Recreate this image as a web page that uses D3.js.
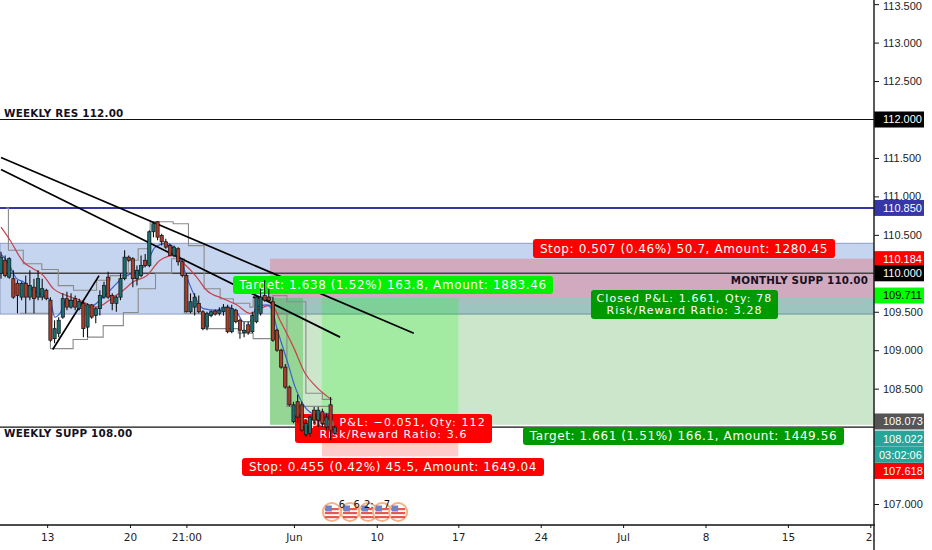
<!DOCTYPE html>
<html><head><meta charset="utf-8">
<script src="https://cdn.jsdelivr.net/npm/d3@7/dist/d3.min.js"></script>
<style>html,body{margin:0;padding:0;background:#fff;overflow:hidden}svg{display:block}text{font-family:"DejaVu Sans",sans-serif}</style>
</head><body><svg id="c" width="932" height="550"></svg>
<script>
// candles, one entry per bar
const opens=[110.00,110.17,109.95,109.93,109.87,109.69,109.87,109.69,109.82,109.69,109.69,109.78,109.65,109.15,109.22,109.43,109.67,109.56,109.67,109.54,109.61,109.30,109.59,109.45,109.54,109.69,109.95,109.71,109.61,109.69,109.93,110.21,110.19,109.93,109.97,110.17,110.10,110.54,110.67,110.49,110.41,110.36,110.23,110.32,110.15,109.97,109.50,109.56,109.61,109.50,109.30,109.45,109.51,109.48,109.50,109.56,109.24,109.52,109.39,109.23,109.33,109.24,109.37,109.48,109.71,109.69,109.63,109.26,109.00,108.78,108.52,108.07,108.33,108.29,107.90,107.92,108.22,108.09,108.20,108.00,108.29,107.92];
const closes=[110.21,109.97,110.19,109.69,109.71,109.87,109.69,109.84,109.67,109.93,109.80,109.67,109.13,109.28,109.39,109.67,109.56,109.65,109.56,109.63,109.28,109.59,109.43,109.54,109.71,109.84,109.69,109.61,109.69,109.93,110.21,110.17,109.93,110.04,110.10,110.10,110.54,110.645,110.47,110.41,110.34,110.23,110.34,110.15,109.97,109.50,109.63,109.69,109.50,109.28,109.48,109.50,109.47,109.52,109.56,109.24,109.54,109.37,109.26,109.26,109.23,109.45,109.69,109.69,109.65,109.65,109.13,109.00,108.78,108.52,108.29,108.29,108.13,107.96,108.05,108.13,108.09,108.22,108.05,108.13,107.96,108.00];
const highs=[110.28,110.23,110.21,110.04,109.91,109.89,109.97,110.04,109.93,110.04,109.93,109.80,109.69,109.39,109.43,109.74,109.76,109.74,109.71,109.67,109.65,109.61,109.60,109.56,109.78,109.89,110.02,109.74,109.71,110.00,110.30,110.23,110.21,110.10,110.23,110.25,110.56,110.67,110.68,110.515,110.45,110.385,110.36,110.34,110.17,110.00,109.74,109.74,109.71,109.52,109.50,109.52,109.53,109.56,109.60,109.59,109.59,109.54,109.41,109.37,109.37,109.50,109.71,109.80,109.91,109.80,109.69,109.28,109.02,108.82,108.54,108.33,108.42,108.33,108.09,108.15,108.26,108.26,108.24,108.18,108.39,108.02];
const lows=[109.93,109.95,109.93,109.67,109.48,109.65,109.48,109.65,109.48,109.65,109.65,109.65,109.11,109.09,109.17,109.41,109.52,109.54,109.52,109.52,109.17,109.17,109.41,109.35,109.45,109.67,109.67,109.52,109.50,109.65,109.91,110.15,109.82,109.84,109.95,110.08,110.08,110.47,110.43,110.36,110.32,110.23,110.21,110.10,109.95,109.49,109.48,109.45,109.48,109.26,109.26,109.43,109.45,109.45,109.45,109.22,109.22,109.35,109.15,109.17,109.20,109.22,109.35,109.45,109.63,109.63,109.11,108.98,108.76,108.50,108.27,108.05,108.05,107.94,107.87,107.87,108.05,108.00,108.00,107.96,107.83,107.90];

// moving averages
const fastBars=[0,1.8,3.8,5.4,7.8,10.3,11.9,13.1,14.3,16,19.2,21.6,24,26.5,29.7,32.9,35.4,37.4,40.2,43.4,45.1,46.7,49.1,52.3,54.8,57.2,58.8,60.4,62,64.5,65.7,66.9,69.4,71.4,73.8,75.8,77.4,79.9];
const fastVals=[110.25,110.13,109.93,109.89,109.78,109.71,109.65,109.43,109.48,109.65,109.63,109.56,109.65,109.78,109.95,110.02,110.13,110.34,110.39,110.21,109.95,109.74,109.54,109.52,109.56,109.50,109.37,109.37,109.56,109.59,109.54,109.30,108.87,108.52,108.26,108.18,108.18,108.18];
const slowBars=[0,2.2,5.4,7.8,10.3,12.7,16,19.2,23.2,27.3,29.7,32.1,35.4,38.6,41.8,44.3,47.5,49.9,54,57.2,60.4,63.7,65.7,67.7,71,73.8,76.6,79.9];
const slowVals=[110.60,110.43,110.15,110.06,109.97,109.80,109.71,109.65,109.56,109.69,109.78,109.89,109.97,110.17,110.23,110.13,109.95,109.78,109.67,109.59,109.48,109.56,109.59,109.39,109.04,108.70,108.52,108.37];

// channel step lines
const upperBars=[1.2,1.8,5.4,9.9,13.9,17.6,23.2,26.5,30.9,33.3,36.2,41.8,45.5,49.3,53.2,56.4,60.4,61.2,66,69.4,74,78,80.5];
const upperVals=[110.85,110.30,110.125,110.05,109.84,109.78,109.91,109.97,110.17,110.32,110.67,110.645,110.36,109.80,109.67,109.61,109.56,109.69,109.71,109.63,108.44,108.36,108.36];
const lowerBars=[4.6,12,17.5,21,24.8,29.7,33.3,37.5,41.4,44.5,49.3,57.6,61.2,66,69.4,80.5];
const lowerVals=[109.48,109.02,109.14,109.17,109.32,109.49,109.80,110.00,110.19,109.48,109.28,109.22,109.15,109.48,108.27,108.27];

// trend lines: [bar, price, bar, price]
const trendLines=[[0,111.506,100.2,109.22],[0,111.35,82.3,109.17],[12.55,109.01,23.8,109.97],[61.2,109.69,65.3,109.65]];

// axes
const priceTicks=[113.5,113,112.5,111.5,111,110.5,109.5,109,108.5,107];
const timeTickBars=[11.2,31.3,45,71.1,91.2,111,131,151,171,191,211];
const timeTickLabels=["13","20","21:00","Jun","10","17","24","Jul","8","15","22"];

// horizontal levels
const levels=[112,110,108];
const bluePrice=110.85;
const zonePrices=[110.39,109.47];

// positions: price bounds
const stopA=[110.19,109.68];
const targetA=[109.68,108.03];
const targetBarsInner=[65.3,73.3];
const targetB=[109.68,108.03];
const stopB=[108.03,107.618];
const barsA=[65.3,300];
const barsB=[77.9,111];

// text on chart
const tagTexts=[
 ["Stop: 0.507 (0.46%) 50.7, Amount: 1280.45"],
 ["Target: 1.638 (1.52%) 163.8, Amount: 1883.46"],
 ["Closed P&L: 1.661, Qty: 78","Risk/Reward Ratio: 3.28"],
 ["Open P&L: \u22120.051, Qty: 112","Risk/Reward Ratio: 3.6"],
 ["Target: 1.661 (1.51%) 166.1, Amount: 1449.56"],
 ["Stop: 0.455 (0.42%) 45.5, Amount: 1649.04"]];
const tagFills=["#ff0000","#00f000","#009a00","#ff0000","#009a00","#ff0000"];
const tagBoxes=[[533,239,302,19],[233,276,320,18],[591,290,187,29],[295,414,197,29],[523,427,321,18],[242,458,302,18]];

// axis price tags
const axisTagLabels=["112.000","110.850","110.184","110.000","109.711","108.073","108.022","03:02:06","107.618"];
const axisTagPrices=[112,110.85,110.184,110.0,109.711,108.073,107.85,107.64,107.43];
const axisTagFills=["#000","#3636a8","#ff0000","#000","#00ff00","#555","#26a69a","#26a69a","#ff0000"];
const axisTagText=["#fff","#fff","#fff","#fff","#000","#fff","#fff","#fff","#fff"];

// event flags
const eventBars=[80.3,84.7,89.1,92.5,96.4];
const eventLabels=["6","6","2",":","7"];
const eventLabelBars=[82.8,86.4,88.9,90.1,93.7];

const svg=d3.select("#c");
const W=874,AX=525;
const axisFont='"Liberation Sans",sans-serif';
const x=d3.scaleLinear().domain([0,211]).range([1,870.3]);
const y=d3.scaleLinear().domain([112,107]).range([119.5,504]);
const gp=svg.append("g");

// zone
gp.append("rect").attr("x",0).attr("width",W).attr("y",y(zonePrices[0])).attr("height",y(zonePrices[1])-y(zonePrices[0])).attr("fill","#c6d5ef").attr("stroke","#8e9cc6");

// positions
const box=(bars,pr,fill)=>gp.append("rect").attr("x",x(bars[0])).attr("width",Math.min(x(bars[1]),W)-x(bars[0])).attr("y",y(pr[0])).attr("height",y(pr[1])-y(pr[0])).attr("fill",fill);
box(barsA,stopA,"rgba(255,0,0,.2)");
box(barsA,targetA,"rgba(0,128,0,.2)");
box(targetBarsInner,targetA,"rgba(0,170,0,.27)");
box(barsB,targetB,"rgba(0,255,0,.2)");
box(barsB,stopB,"rgba(255,0,0,.2)");

// levels
gp.selectAll(".lv").data(levels).join("line").attr("x1",0).attr("x2",W).attr("y1",d=>y(d)).attr("y2",d=>y(d)).attr("stroke",(d,i)=>i==1?"#444":"#111").attr("stroke-width",(d,i)=>i==1?1.5:1.2);
gp.append("line").attr("x1",0).attr("x2",W).attr("y1",y(bluePrice)).attr("y2",y(bluePrice)).attr("stroke","#3636a8").attr("stroke-width",2);

// step lines
const stepLine=d3.line().x(d=>x(d[0])).y(d=>y(d[1])).curve(d3.curveStepAfter);
[[upperBars,upperVals],[lowerBars,lowerVals]].forEach(([b,v])=>{
 gp.append("path").attr("d",stepLine(b.map((k,i)=>[k,v[i]]))).attr("fill","none").attr("stroke","#8a8a8a").attr("stroke-width",1.1);
});

// moving averages
const smooth=d3.line().x(d=>x(d[0])).y(d=>y(d[1])).curve(d3.curveMonotoneX);
gp.append("path").attr("d",smooth(slowBars.map((k,i)=>[k,slowVals[i]]))).attr("fill","none").attr("stroke","#c8404a").attr("stroke-width",1.2);
gp.append("path").attr("d",smooth(fastBars.map((k,i)=>[k,fastVals[i]]))).attr("fill","none").attr("stroke","#3a5fd0").attr("stroke-width",1.2);

// trend lines
gp.selectAll(".tl").data(trendLines).join("line").attr("x1",d=>x(d[0])).attr("y1",d=>y(d[1])).attr("x2",d=>x(d[2])).attr("y2",d=>y(d[3])).attr("stroke","#000").attr("stroke-width",1.7);

// tags
tagTexts.forEach((lines,i)=>{
 const [bx,by,bw,bh]=tagBoxes[i];
 gp.append("rect").attr("x",bx).attr("y",by).attr("width",bw).attr("height",bh).attr("rx",3).attr("fill",tagFills[i]);
 const two=lines.length>1;
 lines.forEach((t,k)=>{
  gp.append("text").text(t).attr("x",bx+bw/2).attr("y",by+bh/2+(k-(lines.length-1)/2)*(two?12:0)).attr("dy","0.36em").attr("text-anchor","middle").attr("font-size",two?11:12).attr("letter-spacing",two?1.1:0.6).attr("fill","#fff");
 });
});

// candles
const cg=svg.append("g");
opens.forEach((o,i)=>{
 const c=closes[i],up=c>=o,cx=x(i);
 cg.append("line").attr("x1",cx).attr("x2",cx).attr("y1",y(highs[i])).attr("y2",y(lows[i])).attr("stroke","#111").attr("stroke-width",1.1);
 const t=y(Math.max(o,c)),b=y(Math.min(o,c));
 cg.append("rect").attr("x",cx-1.6).attr("width",3.2).attr("y",t).attr("height",Math.max(b-t,1)).attr("fill",up?"#1c6f70":"#a83e2c").attr("stroke","#111").attr("stroke-width",.7);
});

// chart labels
const lab=(t,xx,yy,a,fs)=>svg.append("text").text(t).attr("x",xx).attr("y",yy).attr("dy","0.36em").attr("text-anchor",a).attr("font-size",fs).attr("font-weight","bold").attr("letter-spacing",0.2).attr("fill","#151022");
lab("WEEKLY RES 112.00",4,113,"start",10.4);
lab("WEEKLY SUPP 108.00",4,433,"start",10.4);
lab("MONTHLY SUPP 110.00",868,280,"end",10.3);

// event flags
const ev=svg.append("g");
eventBars.forEach((b,i)=>{
 const g=ev.append("g").attr("transform",`translate(${x(b)},512)`);
 g.append("circle").attr("r",9).attr("fill","#fff").attr("stroke","#f7b184").attr("stroke-width",2);
 [-4,0,4].forEach(o=>g.append("rect").attr("x",-7).attr("y",o).attr("width",14).attr("height",2.2).attr("fill","#e45a50"));
 g.append("rect").attr("x",-6.5).attr("y",-6.5).attr("width",6.5).attr("height",6).attr("fill","#6f83c8");
});
eventLabels.forEach((t,i)=>{
 svg.append("text").text(t).attr("x",x(eventLabelBars[i])).attr("y",504).attr("dy","0.36em").attr("text-anchor","middle").attr("font-size",10).attr("letter-spacing",0.4).attr("fill","#111");
});

// axes
svg.append("rect").attr("x",W).attr("y",0).attr("width",58).attr("height",550).attr("fill","#fff");
svg.append("rect").attr("x",0).attr("y",AX).attr("width",W).attr("height",25).attr("fill","#fff");
const ay=svg.append("g").attr("transform",`translate(${W},0)`).call(d3.axisRight(y).tickValues(priceTicks).tickFormat(d3.format(".3f")).tickSize(5).tickPadding(4));
ay.select(".domain").remove();
ay.selectAll("text").attr("font-size",11).attr("fill","#222").style("font-family",axisFont);
ay.selectAll("line").attr("stroke","#111");
ay.selectAll(".tick").filter((d,i)=>i==0).select("text").attr("dy","0.5em");
const ax=svg.append("g").attr("transform",`translate(0,${AX})`).call(d3.axisBottom(x).tickValues(timeTickBars).tickFormat((d,i)=>timeTickLabels[i]).tickSize(3).tickPadding(6));
ax.select(".domain").remove();
ax.selectAll("text").attr("font-size",10.5).attr("fill","#222");
ax.selectAll("line").attr("stroke","#111");
ax.selectAll(".tick").filter((d,i)=>i==10).select("text").attr("text-anchor","start").attr("dx","-5");
svg.append("rect").attr("x",W).attr("y",AX+2).attr("width",58).attr("height",23).attr("fill","#fff");
axisTagLabels.forEach((t,i)=>{
 const cy=y(axisTagPrices[i]);
 svg.append("rect").attr("x",W).attr("y",cy-8).attr("width",50).attr("height",16).attr("fill",axisTagFills[i]);
 svg.append("text").text(t).attr("x",i==7?W+5:W+9).attr("y",cy).attr("dy","0.36em").attr("font-size",11).style("font-family",axisFont).attr("fill",axisTagText[i]);
});
svg.append("line").attr("x1",0).attr("x2",W+1).attr("y1",AX).attr("y2",AX).attr("stroke","#111").attr("stroke-width",1.3);
svg.append("line").attr("x1",W).attr("x2",W).attr("y1",0).attr("y2",550).attr("stroke","#222").attr("stroke-width",1.5);
</script></body></html>
